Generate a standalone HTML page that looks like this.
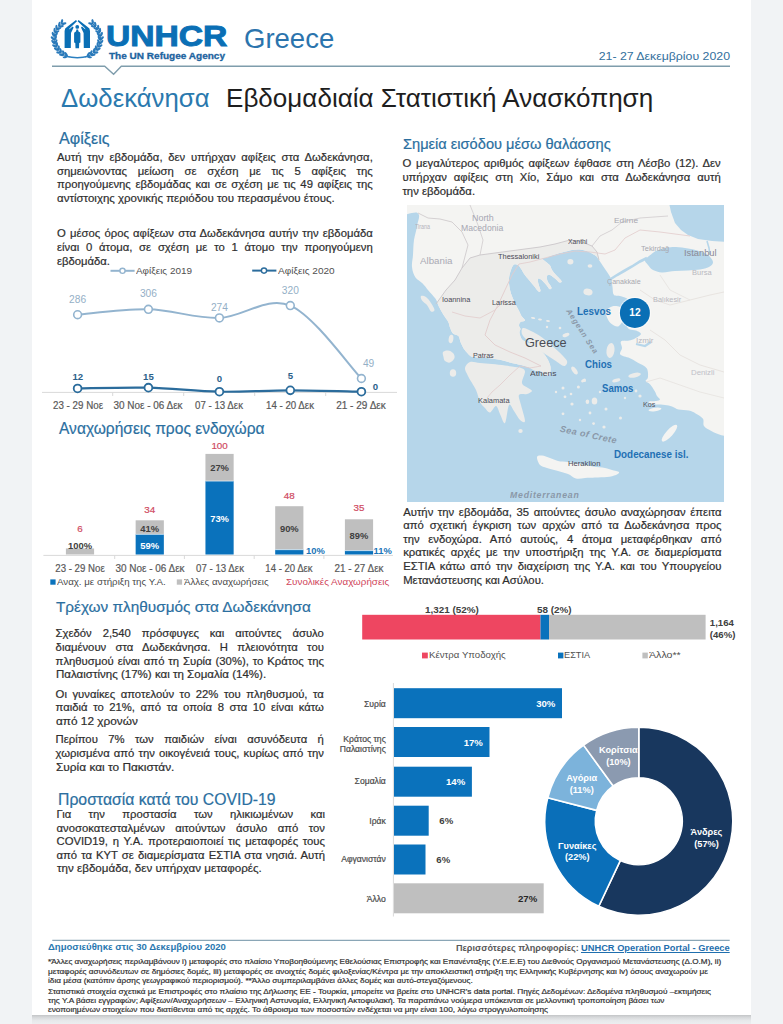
<!DOCTYPE html>
<html><head><meta charset="utf-8"><title>UNHCR Greece - Dodecanese</title>
<style>
*{margin:0;padding:0;box-sizing:border-box}
html,body{width:783px;height:1024px;overflow:hidden;background:#f1f3f5;font-family:"Liberation Sans",sans-serif}
#pg{position:absolute;left:32px;top:-10px;width:719.4px;height:1024.6px;background:#fff}
#sh{position:absolute;left:32px;top:1014.6px;width:719.4px;height:9.4px;background:linear-gradient(#c3c5c7,#d6d8da 25%,#e6e8ea 60%,#eceef0);z-index:5}
.t{position:absolute;white-space:nowrap}
.b{-webkit-text-stroke:0.2px currentColor}
svg{position:absolute;left:0;top:0;overflow:visible}
</style></head>
<body><div id="pg"></div>
<svg width="783" height="1024" viewBox="0 0 783 1024"><defs><clipPath id="mc"><rect x="407" y="205" width="317" height="297"/></clipPath><clipPath id="lc"><path d="M380.0,180.0 C440.8,174.5 696.7,137.2 760.0,180.0 C823.3,222.8 764.2,394.2 760.0,437.0 C755.8,479.8 741.4,437.3 735.0,437.0 C728.6,436.7 725.5,436.2 721.5,435.2 C717.5,434.2 714.2,432.5 711.3,431.0 C708.4,429.5 705.4,428.0 704.0,426.0 C702.6,424.0 704.3,420.9 703.0,418.8 C701.7,416.8 698.4,415.1 696.0,413.7 C693.6,412.3 691.7,411.3 688.8,410.6 C685.9,409.9 681.4,410.3 678.6,409.6 C675.8,408.9 674.3,407.3 672.0,406.5 C669.7,405.7 667.7,405.3 665.0,405.0 C662.3,404.7 658.5,404.8 656.0,404.5 C653.5,404.2 651.2,404.0 650.0,403.5 C648.8,403.0 648.0,401.9 649.0,401.5 C650.0,401.1 654.2,401.3 656.0,401.0 C657.8,400.7 659.8,400.3 660.0,399.5 C660.2,398.7 657.9,397.4 657.0,396.0 C656.1,394.6 655.9,393.2 654.8,391.3 C653.7,389.4 651.7,386.1 650.2,384.4 C648.7,382.7 646.0,382.1 645.6,381.0 C645.2,379.9 647.7,379.6 647.9,377.5 C648.1,375.4 648.4,370.8 646.7,368.3 C645.0,365.8 640.4,364.2 637.5,362.5 C634.6,360.8 632.4,359.3 629.5,358.0 C626.6,356.7 621.5,356.2 620.3,354.5 C619.0,352.8 621.9,350.2 622.0,348.0 C622.1,345.8 619.8,342.8 621.0,341.5 C622.2,340.2 626.7,341.0 629.0,340.5 C631.3,340.0 633.0,339.6 635.0,338.5 C637.0,337.4 640.8,335.3 641.0,334.0 C641.2,332.7 637.8,331.2 636.0,330.5 C634.2,329.8 631.5,330.2 630.0,329.5 C628.5,328.8 627.3,327.9 627.0,326.0 C626.7,324.1 627.5,322.0 628.0,318.0 C628.5,314.0 631.0,305.6 630.0,302.0 C629.0,298.4 624.7,297.7 622.0,296.5 C619.3,295.3 615.6,296.6 614.0,295.0 C612.4,293.4 612.9,289.5 612.5,287.0 C612.1,284.5 612.1,282.0 611.5,280.0 C610.9,278.0 610.1,276.8 609.0,275.0 C607.9,273.2 606.3,271.0 605.0,269.0 C603.7,267.0 602.2,264.8 601.0,263.0 C599.8,261.2 598.8,259.7 598.0,258.5 C597.2,257.3 597.7,257.2 596.0,256.0 C594.3,254.8 590.7,252.6 588.0,251.5 C585.3,250.4 582.7,249.8 580.0,249.5 C577.3,249.2 575.0,249.5 572.0,250.0 C569.0,250.5 565.2,251.7 562.0,252.5 C558.8,253.3 555.5,254.2 553.0,255.0 C550.5,255.8 548.8,256.9 547.0,257.5 C545.2,258.1 542.2,257.8 542.0,258.5 C541.8,259.2 544.7,260.8 546.0,262.0 C547.3,263.2 549.0,264.2 550.0,265.5 C551.0,266.8 551.0,268.4 552.0,270.0 C553.0,271.6 554.4,273.2 556.0,275.0 C557.6,276.8 560.9,279.8 561.5,281.0 C562.1,282.2 560.6,282.9 559.5,282.5 C558.4,282.1 556.6,279.8 555.0,278.5 C553.4,277.2 551.3,275.4 550.0,275.0 C548.7,274.6 547.4,275.0 547.0,276.0 C546.6,277.0 546.8,279.1 547.5,281.0 C548.2,282.9 551.2,286.2 551.5,287.5 C551.8,288.8 550.5,289.6 549.5,289.0 C548.5,288.4 546.9,285.6 545.5,284.0 C544.1,282.4 542.2,280.3 541.0,279.5 C539.8,278.7 538.4,278.2 538.0,279.0 C537.6,279.8 538.1,282.1 538.5,284.0 C538.9,285.9 540.5,289.2 540.5,290.5 C540.5,291.8 539.6,292.2 538.5,291.5 C537.4,290.8 535.6,287.9 534.0,286.0 C532.4,284.1 530.6,281.9 529.0,280.0 C527.4,278.1 525.8,276.2 524.5,274.5 C523.2,272.8 522.6,271.1 521.5,269.5 C520.4,267.9 519.4,265.7 518.0,265.0 C516.6,264.3 514.5,263.3 513.0,265.5 C511.5,267.7 509.4,274.1 509.0,278.3 C508.6,282.6 509.4,287.2 510.3,291.0 C511.2,294.8 512.7,297.9 514.2,301.3 C515.7,304.7 518.0,308.9 519.3,311.5 C520.6,314.1 520.8,315.1 521.8,316.6 C522.8,318.1 525.2,319.6 525.0,320.5 C524.8,321.4 521.5,321.2 520.5,322.0 C519.5,322.8 519.0,324.3 519.0,325.5 C519.0,326.7 520.4,327.8 520.5,329.0 C520.6,330.2 519.2,331.2 519.5,333.0 C519.8,334.8 520.8,338.2 522.5,340.0 C524.2,341.8 527.4,342.2 530.0,343.5 C532.6,344.8 535.7,346.2 538.0,348.0 C540.3,349.8 542.3,352.0 544.0,354.0 C545.7,356.0 546.9,357.8 548.0,360.0 C549.1,362.2 550.2,364.6 550.5,367.0 C550.8,369.4 550.4,373.1 549.5,374.5 C548.6,375.9 546.4,376.1 545.0,375.5 C543.6,374.9 542.7,371.8 541.0,371.0 C539.3,370.2 537.2,371.2 535.0,370.5 C532.8,369.8 530.3,367.9 528.0,367.0 C525.7,366.1 524.0,365.8 521.0,365.0 C518.0,364.2 513.5,363.4 510.0,362.5 C506.5,361.6 503.3,360.5 500.0,359.8 C496.7,359.1 493.3,358.7 490.0,358.3 C486.7,357.9 483.0,357.9 480.0,357.7 C477.0,357.4 474.0,357.5 472.0,356.8 C470.0,356.1 469.3,355.0 468.0,353.7 C466.7,352.4 465.2,350.9 464.0,349.0 C462.8,347.1 461.4,344.2 460.5,342.0 C459.6,339.8 459.8,337.4 458.5,336.0 C457.2,334.6 454.4,334.9 453.0,333.5 C451.6,332.1 450.8,329.4 450.0,327.5 C449.2,325.6 449.4,324.1 448.3,322.0 C447.2,319.9 445.2,317.5 443.6,315.0 C442.1,312.5 440.4,309.5 439.0,306.8 C437.6,304.1 437.2,301.3 435.4,298.6 C433.6,295.9 430.5,292.9 428.4,290.4 C426.3,287.9 424.8,285.5 422.6,283.4 C420.5,281.3 417.3,280.3 415.5,277.6 C413.7,274.9 412.4,270.8 412.0,267.0 C411.6,263.2 412.7,259.5 413.0,255.0 C413.3,250.5 413.3,244.8 414.0,240.0 C414.7,235.2 416.4,230.5 417.0,226.0 C417.6,221.5 421.2,215.2 417.5,213.0 C413.8,210.8 401.2,218.5 395.0,213.0 C388.8,207.5 319.2,185.5 380.0,180.0 Z"/></clipPath></defs><g clip-path="url(#mc)"><rect x="407" y="205" width="317" height="297" fill="#b6d6ea"/><path d="M380.0,180.0 C440.8,174.5 696.7,137.2 760.0,180.0 C823.3,222.8 764.2,394.2 760.0,437.0 C755.8,479.8 741.4,437.3 735.0,437.0 C728.6,436.7 725.5,436.2 721.5,435.2 C717.5,434.2 714.2,432.5 711.3,431.0 C708.4,429.5 705.4,428.0 704.0,426.0 C702.6,424.0 704.3,420.9 703.0,418.8 C701.7,416.8 698.4,415.1 696.0,413.7 C693.6,412.3 691.7,411.3 688.8,410.6 C685.9,409.9 681.4,410.3 678.6,409.6 C675.8,408.9 674.3,407.3 672.0,406.5 C669.7,405.7 667.7,405.3 665.0,405.0 C662.3,404.7 658.5,404.8 656.0,404.5 C653.5,404.2 651.2,404.0 650.0,403.5 C648.8,403.0 648.0,401.9 649.0,401.5 C650.0,401.1 654.2,401.3 656.0,401.0 C657.8,400.7 659.8,400.3 660.0,399.5 C660.2,398.7 657.9,397.4 657.0,396.0 C656.1,394.6 655.9,393.2 654.8,391.3 C653.7,389.4 651.7,386.1 650.2,384.4 C648.7,382.7 646.0,382.1 645.6,381.0 C645.2,379.9 647.7,379.6 647.9,377.5 C648.1,375.4 648.4,370.8 646.7,368.3 C645.0,365.8 640.4,364.2 637.5,362.5 C634.6,360.8 632.4,359.3 629.5,358.0 C626.6,356.7 621.5,356.2 620.3,354.5 C619.0,352.8 621.9,350.2 622.0,348.0 C622.1,345.8 619.8,342.8 621.0,341.5 C622.2,340.2 626.7,341.0 629.0,340.5 C631.3,340.0 633.0,339.6 635.0,338.5 C637.0,337.4 640.8,335.3 641.0,334.0 C641.2,332.7 637.8,331.2 636.0,330.5 C634.2,329.8 631.5,330.2 630.0,329.5 C628.5,328.8 627.3,327.9 627.0,326.0 C626.7,324.1 627.5,322.0 628.0,318.0 C628.5,314.0 631.0,305.6 630.0,302.0 C629.0,298.4 624.7,297.7 622.0,296.5 C619.3,295.3 615.6,296.6 614.0,295.0 C612.4,293.4 612.9,289.5 612.5,287.0 C612.1,284.5 612.1,282.0 611.5,280.0 C610.9,278.0 610.1,276.8 609.0,275.0 C607.9,273.2 606.3,271.0 605.0,269.0 C603.7,267.0 602.2,264.8 601.0,263.0 C599.8,261.2 598.8,259.7 598.0,258.5 C597.2,257.3 597.7,257.2 596.0,256.0 C594.3,254.8 590.7,252.6 588.0,251.5 C585.3,250.4 582.7,249.8 580.0,249.5 C577.3,249.2 575.0,249.5 572.0,250.0 C569.0,250.5 565.2,251.7 562.0,252.5 C558.8,253.3 555.5,254.2 553.0,255.0 C550.5,255.8 548.8,256.9 547.0,257.5 C545.2,258.1 542.2,257.8 542.0,258.5 C541.8,259.2 544.7,260.8 546.0,262.0 C547.3,263.2 549.0,264.2 550.0,265.5 C551.0,266.8 551.0,268.4 552.0,270.0 C553.0,271.6 554.4,273.2 556.0,275.0 C557.6,276.8 560.9,279.8 561.5,281.0 C562.1,282.2 560.6,282.9 559.5,282.5 C558.4,282.1 556.6,279.8 555.0,278.5 C553.4,277.2 551.3,275.4 550.0,275.0 C548.7,274.6 547.4,275.0 547.0,276.0 C546.6,277.0 546.8,279.1 547.5,281.0 C548.2,282.9 551.2,286.2 551.5,287.5 C551.8,288.8 550.5,289.6 549.5,289.0 C548.5,288.4 546.9,285.6 545.5,284.0 C544.1,282.4 542.2,280.3 541.0,279.5 C539.8,278.7 538.4,278.2 538.0,279.0 C537.6,279.8 538.1,282.1 538.5,284.0 C538.9,285.9 540.5,289.2 540.5,290.5 C540.5,291.8 539.6,292.2 538.5,291.5 C537.4,290.8 535.6,287.9 534.0,286.0 C532.4,284.1 530.6,281.9 529.0,280.0 C527.4,278.1 525.8,276.2 524.5,274.5 C523.2,272.8 522.6,271.1 521.5,269.5 C520.4,267.9 519.4,265.7 518.0,265.0 C516.6,264.3 514.5,263.3 513.0,265.5 C511.5,267.7 509.4,274.1 509.0,278.3 C508.6,282.6 509.4,287.2 510.3,291.0 C511.2,294.8 512.7,297.9 514.2,301.3 C515.7,304.7 518.0,308.9 519.3,311.5 C520.6,314.1 520.8,315.1 521.8,316.6 C522.8,318.1 525.2,319.6 525.0,320.5 C524.8,321.4 521.5,321.2 520.5,322.0 C519.5,322.8 519.0,324.3 519.0,325.5 C519.0,326.7 520.4,327.8 520.5,329.0 C520.6,330.2 519.2,331.2 519.5,333.0 C519.8,334.8 520.8,338.2 522.5,340.0 C524.2,341.8 527.4,342.2 530.0,343.5 C532.6,344.8 535.7,346.2 538.0,348.0 C540.3,349.8 542.3,352.0 544.0,354.0 C545.7,356.0 546.9,357.8 548.0,360.0 C549.1,362.2 550.2,364.6 550.5,367.0 C550.8,369.4 550.4,373.1 549.5,374.5 C548.6,375.9 546.4,376.1 545.0,375.5 C543.6,374.9 542.7,371.8 541.0,371.0 C539.3,370.2 537.2,371.2 535.0,370.5 C532.8,369.8 530.3,367.9 528.0,367.0 C525.7,366.1 524.0,365.8 521.0,365.0 C518.0,364.2 513.5,363.4 510.0,362.5 C506.5,361.6 503.3,360.5 500.0,359.8 C496.7,359.1 493.3,358.7 490.0,358.3 C486.7,357.9 483.0,357.9 480.0,357.7 C477.0,357.4 474.0,357.5 472.0,356.8 C470.0,356.1 469.3,355.0 468.0,353.7 C466.7,352.4 465.2,350.9 464.0,349.0 C462.8,347.1 461.4,344.2 460.5,342.0 C459.6,339.8 459.8,337.4 458.5,336.0 C457.2,334.6 454.4,334.9 453.0,333.5 C451.6,332.1 450.8,329.4 450.0,327.5 C449.2,325.6 449.4,324.1 448.3,322.0 C447.2,319.9 445.2,317.5 443.6,315.0 C442.1,312.5 440.4,309.5 439.0,306.8 C437.6,304.1 437.2,301.3 435.4,298.6 C433.6,295.9 430.5,292.9 428.4,290.4 C426.3,287.9 424.8,285.5 422.6,283.4 C420.5,281.3 417.3,280.3 415.5,277.6 C413.7,274.9 412.4,270.8 412.0,267.0 C411.6,263.2 412.7,259.5 413.0,255.0 C413.3,250.5 413.3,244.8 414.0,240.0 C414.7,235.2 416.4,230.5 417.0,226.0 C417.6,221.5 421.2,215.2 417.5,213.0 C413.8,210.8 401.2,218.5 395.0,213.0 C388.8,207.5 319.2,185.5 380.0,180.0 Z" fill="#f4f4f2"/><g clip-path="url(#lc)"><polygon points="436.0,304.0 446.0,290.0 455.0,280.0 462.0,268.0 470.0,258.0 480.0,255.0 495.0,253.0 510.0,251.0 525.0,249.0 540.0,247.0 555.0,244.0 570.0,240.0 582.0,242.0 592.0,246.0 597.0,252.0 599.0,260.0 600.0,300.0 560.0,420.0 440.0,420.0 420.0,330.0" fill="#ececea" /></g><path d="M465.0,368.0 C465.3,365.7 467.5,362.8 470.0,362.0 C472.5,361.2 476.3,362.7 480.0,363.0 C483.7,363.3 487.8,363.6 492.0,364.0 C496.2,364.4 501.2,365.0 505.0,365.5 C508.8,366.0 512.3,366.6 515.0,367.0 C517.7,367.4 519.3,367.2 521.0,368.0 C522.7,368.8 524.8,369.0 525.0,371.5 C525.2,374.0 521.5,380.2 522.0,383.0 C522.5,385.8 526.3,386.7 528.0,388.0 C529.7,389.3 532.2,390.0 532.0,391.0 C531.8,392.0 529.2,393.3 527.0,394.0 C524.8,394.7 520.0,393.2 519.0,395.0 C518.0,396.8 520.0,400.7 521.0,405.0 C522.0,409.3 525.2,418.5 525.0,421.0 C524.8,423.5 521.8,421.7 520.0,420.0 C518.2,418.3 515.8,413.5 514.0,411.0 C512.2,408.5 510.5,403.0 509.0,405.0 C507.5,407.0 506.5,421.5 505.0,423.0 C503.5,424.5 501.5,416.8 500.0,414.0 C498.5,411.2 497.7,406.2 496.0,406.0 C494.3,405.8 491.8,412.2 490.0,412.5 C488.2,412.8 486.7,409.8 485.0,408.0 C483.3,406.2 481.5,405.0 480.0,402.0 C478.5,399.0 478.0,394.3 476.0,390.0 C474.0,385.7 469.8,379.7 468.0,376.0 C466.2,372.3 464.7,370.3 465.0,368.0 Z" fill="#ececea" /><path d="M523.0,328.0 C524.5,327.5 528.2,329.7 531.0,331.0 C533.8,332.3 536.8,333.8 540.0,336.0 C543.2,338.2 546.8,341.3 550.0,344.0 C553.2,346.7 556.2,349.2 559.0,352.0 C561.8,354.8 566.2,358.7 567.0,361.0 C567.8,363.3 566.0,366.1 564.0,366.0 C562.0,365.9 558.2,362.5 555.0,360.5 C551.8,358.5 548.3,356.2 545.0,354.0 C541.7,351.8 538.0,349.3 535.0,347.0 C532.0,344.7 529.2,342.2 527.0,340.0 C524.8,337.8 522.7,336.0 522.0,334.0 C521.3,332.0 521.5,328.5 523.0,328.0 Z" fill="#ececea" /><path d="M537.0,457.0 C537.3,455.4 539.8,455.3 542.0,455.5 C544.2,455.7 547.3,457.1 550.0,458.0 C552.7,458.9 555.0,460.3 558.0,461.0 C561.0,461.7 564.3,461.5 568.0,462.0 C571.7,462.5 575.8,463.2 580.0,464.0 C584.2,464.8 588.8,465.8 593.0,466.5 C597.2,467.2 601.8,467.4 605.0,468.0 C608.2,468.6 609.7,469.3 612.0,470.0 C614.3,470.7 618.3,471.2 619.0,472.0 C619.7,472.8 618.0,474.2 616.0,475.0 C614.0,475.8 610.5,476.6 607.0,477.0 C603.5,477.4 598.7,477.3 595.0,477.5 C591.3,477.7 588.2,477.8 585.0,478.0 C581.8,478.2 578.8,479.2 576.0,478.5 C573.2,477.8 571.0,475.2 568.0,474.0 C565.0,472.8 561.5,472.0 558.0,471.0 C554.5,470.0 550.0,469.0 547.0,468.0 C544.0,467.0 541.7,466.8 540.0,465.0 C538.3,463.2 536.7,458.6 537.0,457.0 Z" fill="#f4f4f2" /><polygon points="668.0,198.0 671.0,212.0 675.0,223.0 681.0,230.0 688.0,235.0 698.0,239.0 712.0,241.0 730.0,242.0 730.0,198.0" fill="#b6d6ea" /><path d="M645.0,260.0 C645.5,258.2 649.0,256.1 651.0,254.5 C653.0,252.9 654.5,251.6 657.0,250.5 C659.5,249.4 662.8,248.6 666.0,248.0 C669.2,247.4 672.3,246.9 676.0,247.0 C679.7,247.1 684.2,247.8 688.0,248.5 C691.8,249.2 695.7,249.9 699.0,251.0 C702.3,252.1 705.7,253.2 708.0,255.0 C710.3,256.8 712.8,260.0 713.0,262.0 C713.2,264.0 711.2,265.8 709.0,267.0 C706.8,268.2 703.5,268.9 700.0,269.5 C696.5,270.1 692.2,270.2 688.0,270.5 C683.8,270.8 679.3,270.7 675.0,271.0 C670.7,271.3 665.7,272.7 662.0,272.5 C658.3,272.3 655.3,271.2 653.0,270.0 C650.7,268.8 649.3,266.7 648.0,265.0 C646.7,263.3 644.5,261.8 645.0,260.0 Z" fill="#b6d6ea" /><polyline points="610,279.5 617,275 624,271 632,266.5 640,261.5 647,258" fill="none" stroke="#b6d6ea" stroke-width="2.6"/><polyline points="707,241 709,248 710,255" fill="none" stroke="#b6d6ea" stroke-width="1.6"/><polyline points="636,344 645,346 651,342" fill="none" stroke="#b6d6ea" stroke-width="2.2"/><path d="M421.0,296.0 C421.7,295.4 424.3,295.8 426.0,297.0 C427.7,298.2 429.6,300.8 431.0,303.0 C432.4,305.2 434.5,308.6 434.5,310.0 C434.5,311.4 432.2,312.3 431.0,311.5 C429.8,310.7 428.5,306.8 427.0,305.0 C425.5,303.2 423.0,302.0 422.0,300.5 C421.0,299.0 420.3,296.6 421.0,296.0 Z" fill="#ececea" /><path d="M606.0,311.0 C606.8,309.2 609.7,307.2 612.0,306.5 C614.3,305.8 617.9,306.1 620.0,307.0 C622.1,307.9 624.0,309.8 624.5,312.0 C625.0,314.2 624.1,317.6 623.0,320.0 C621.9,322.4 620.0,325.9 618.0,326.5 C616.0,327.1 612.8,325.0 611.0,323.5 C609.2,322.0 607.8,319.6 607.0,317.5 C606.2,315.4 605.2,312.8 606.0,311.0 Z" fill="#f4f4f2" /><path d="M443.0,352.0 C443.8,350.9 446.3,350.3 448.0,350.5 C449.7,350.7 451.9,351.8 453.0,353.0 C454.1,354.2 455.0,356.4 454.5,358.0 C454.0,359.6 451.6,362.0 450.0,362.5 C448.4,363.0 446.1,361.9 445.0,361.0 C443.9,360.1 443.8,358.5 443.5,357.0 C443.2,355.5 442.2,353.1 443.0,352.0 Z" fill="#ececea" /><ellipse cx="451.0" cy="339.0" rx="2.3" ry="4.2" transform="rotate(10 451.0 339.0)" fill="#ececea"/><ellipse cx="453.0" cy="373.0" rx="3.2" ry="3.8" transform="rotate(0 453.0 373.0)" fill="#ececea"/><ellipse cx="570.4" cy="261.7" rx="3.0" ry="2.7" transform="rotate(0 570.4 261.7)" fill="#ececea"/><ellipse cx="590.0" cy="266.0" rx="2.4" ry="1.7" transform="rotate(0 590.0 266.0)" fill="#ececea"/><ellipse cx="588.0" cy="292.0" rx="4.6" ry="3.4" transform="rotate(10 588.0 292.0)" fill="#ececea"/><ellipse cx="533.0" cy="318.0" rx="2.2" ry="1.0" transform="rotate(10 533.0 318.0)" fill="#ececea"/><ellipse cx="540.0" cy="319.5" rx="2.0" ry="1.0" transform="rotate(10 540.0 319.5)" fill="#ececea"/><ellipse cx="548.0" cy="321.0" rx="2.0" ry="1.0" transform="rotate(10 548.0 321.0)" fill="#ececea"/><ellipse cx="566.0" cy="335.0" rx="3.6" ry="1.8" transform="rotate(-20 566.0 335.0)" fill="#ececea"/><ellipse cx="610.5" cy="350.5" rx="4.0" ry="7.5" transform="rotate(8 610.5 350.5)" fill="#ececea"/><ellipse cx="616.3" cy="380.3" rx="4.2" ry="1.7" transform="rotate(-15 616.3 380.3)" fill="#ececea"/><ellipse cx="634.6" cy="375.2" rx="6.4" ry="2.3" transform="rotate(-12 634.6 375.2)" fill="#ececea"/><ellipse cx="574.5" cy="370.5" rx="2.2" ry="4.6" transform="rotate(-35 574.5 370.5)" fill="#ececea"/><ellipse cx="583.5" cy="380.5" rx="2.6" ry="1.5" transform="rotate(-30 583.5 380.5)" fill="#ececea"/><ellipse cx="594.5" cy="401.0" rx="2.8" ry="3.6" transform="rotate(0 594.5 401.0)" fill="#ececea"/><ellipse cx="587.4" cy="401.7" rx="1.8" ry="2.3" transform="rotate(0 587.4 401.7)" fill="#ececea"/><ellipse cx="655.0" cy="409.5" rx="6.5" ry="1.7" transform="rotate(-8 655.0 409.5)" fill="#f4f4f2"/><ellipse cx="669.5" cy="433.2" rx="3.4" ry="11.0" transform="rotate(42 669.5 433.2)" fill="#f4f4f2"/><ellipse cx="520.5" cy="431.0" rx="2.2" ry="2.0" transform="rotate(0 520.5 431.0)" fill="#ececea"/><circle cx="563.0" cy="388.0" r="1.5" fill="#ececea"/><circle cx="565.0" cy="396.8" r="1.4" fill="#ececea"/><circle cx="572.0" cy="404.0" r="1.6" fill="#ececea"/><circle cx="563.0" cy="413.8" r="1.4" fill="#ececea"/><circle cx="584.7" cy="380.7" r="1.3" fill="#ececea"/><circle cx="578.4" cy="387.0" r="1.5" fill="#ececea"/><circle cx="590.0" cy="413.0" r="1.4" fill="#ececea"/><circle cx="593.6" cy="423.6" r="1.4" fill="#ececea"/><circle cx="604.0" cy="427.0" r="1.6" fill="#ececea"/><circle cx="606.0" cy="409.0" r="1.5" fill="#ececea"/><circle cx="620.5" cy="418.0" r="1.5" fill="#ececea"/><circle cx="556.0" cy="392.0" r="1.2" fill="#ececea"/><circle cx="600.0" cy="392.0" r="1.2" fill="#ececea"/><circle cx="571.0" cy="394.0" r="1.3" fill="#ececea"/><circle cx="580.0" cy="420.0" r="1.2" fill="#ececea"/><circle cx="640.0" cy="396.0" r="1.6" fill="#ececea"/><circle cx="636.0" cy="391.0" r="1.4" fill="#ececea"/><circle cx="625.0" cy="398.0" r="1.2" fill="#ececea"/><circle cx="547.0" cy="327.0" r="1.2" fill="#ececea"/><circle cx="560.0" cy="328.0" r="1.3" fill="#ececea"/><polyline points="436,304 446,290 455,280 462,268 470,258 480,255 495,253 510,251 525,249 540,247 555,244 570,240 582,242 592,246 597,252 599,260" fill="none" stroke="#cbc6c9" stroke-width="0.9"/><polyline points="418,213 428,218 440,219 452,222 462,232 468,245 462,268" fill="none" stroke="#cbc6c9" stroke-width="0.8"/><polyline points="480,255 483,240 478,225 470,205" fill="none" stroke="#cbc6c9" stroke-width="0.7"/><polyline points="592,246 600,236 612,230 622,222 640,218 668,216" fill="none" stroke="#cbc6c9" stroke-width="0.7"/><polyline points="519,264 512,275 505,290 498,305 490,320 485,335 495,345 510,352 525,358 541,366" fill="none" stroke="#e2cccc" stroke-width="0.9"/><polyline points="452,312 465,316 480,318 495,310 505,300" fill="none" stroke="#e2cccc" stroke-width="0.8"/><polyline points="541,366 530,368 520,366 510,375 500,385 492,392 487,398" fill="none" stroke="#e2cccc" stroke-width="0.8"/><polyline points="519,264 530,262 545,258 560,254 575,251 590,252 605,254 615,250 625,238 640,230 660,232 690,236" fill="none" stroke="#e2cccc" stroke-width="0.8"/><polyline points="640,290 655,300 670,305 690,300 710,295 724,292" fill="none" stroke="#e4dfdc" stroke-width="0.8"/><polyline points="650,330 665,340 680,355 700,365 724,372" fill="none" stroke="#e4dfdc" stroke-width="0.8"/><polyline points="660,275 670,290 690,300" fill="none" stroke="#e4dfdc" stroke-width="0.7"/><polyline points="646,382 660,378 680,385 700,392 724,398" fill="none" stroke="#e4dfdc" stroke-width="0.7"/><circle cx="634.9" cy="312.9" r="16.2" fill="#ffffff" fill-opacity="0.55"/><circle cx="634.9" cy="312.9" r="15.0" fill="#0a6fb5"/></g><text x="559.5" y="431.6" transform="rotate(12 559.5 431.6)" font-family="Liberation Sans" font-size="9" font-style="italic" font-weight="700" fill="#8a98a8" letter-spacing="0.9" textLength="58.5">Sea of Crete</text><text x="566" y="311" transform="rotate(57 566 311)" font-family="Liberation Sans" font-size="7.6" font-style="italic" font-weight="700" fill="#8a98a8" letter-spacing="0.6" textLength="52">Aegean Sea</text></svg>
<svg width="783" height="1024" viewBox="0 0 783 1024"><polyline points="52,66.2 104.7,66.2 113.6,74.2 121.3,66.2 730,66.2" fill="none" stroke="#7f9dac" stroke-width="1.4"/><line x1="52.3" y1="940.3" x2="729.7" y2="940.3" stroke="#8aa6b6" stroke-width="1.2"/><g fill="#0a6fb5"><path d="M64.60,48.00 L64.60,31.00 L65.20,28.60 L67.60,26.60 L76.00,20.00 L77.00,21.30 L69.60,28.20 L69.20,29.60 L72.60,26.60 L73.60,27.60 L71.00,33.00 L70.80,48.00 Z"/><path d="M90.00,48.00 L90.00,31.00 L89.40,28.60 L87.00,26.60 L78.60,20.00 L77.60,21.30 L85.00,28.20 L85.40,29.60 L82.00,26.60 L81.00,27.60 L83.60,33.00 L83.80,48.00 Z"/><circle cx="77.25" cy="26.9" r="1.9"/><path d="M74.1,33.6 Q74.1,31.6 76.0,31.4 L76.4,29.6 L78.1,29.6 L78.5,31.4 Q80.4,31.6 80.4,33.6 L80.4,42.5 L79.2,43 L79.0,48.2 L75.5,48.2 L75.3,43 L74.1,42.5 Z"/></g><g fill="#2a7abb"><ellipse cx="61.93" cy="21.58" rx="2.5" ry="1.15" transform="rotate(-76.5 61.93 21.58)"/><ellipse cx="64.02" cy="23.67" rx="2.5" ry="1.15" transform="rotate(-13.5 64.02 23.67)"/><ellipse cx="59.31" cy="24.20" rx="2.5" ry="1.15" transform="rotate(-76.5 59.31 24.20)"/><ellipse cx="61.40" cy="26.29" rx="2.5" ry="1.15" transform="rotate(-13.5 61.40 26.29)"/><ellipse cx="56.44" cy="27.13" rx="2.5" ry="1.15" transform="rotate(-91.9 56.44 27.13)"/><ellipse cx="59.01" cy="28.59" rx="2.5" ry="1.15" transform="rotate(-28.9 59.01 28.59)"/><ellipse cx="54.60" cy="30.35" rx="2.5" ry="1.15" transform="rotate(-91.9 54.60 30.35)"/><ellipse cx="57.18" cy="31.82" rx="2.5" ry="1.15" transform="rotate(-28.9 57.18 31.82)"/><ellipse cx="53.10" cy="34.25" rx="2.5" ry="1.15" transform="rotate(-112.4 53.10 34.25)"/><ellipse cx="56.02" cy="34.72" rx="2.5" ry="1.15" transform="rotate(-49.4 56.02 34.72)"/><ellipse cx="52.55" cy="38.35" rx="2.5" ry="1.15" transform="rotate(-129.4 52.55 38.35)"/><ellipse cx="55.49" cy="37.95" rx="2.5" ry="1.15" transform="rotate(-66.3 55.49 37.95)"/><ellipse cx="53.06" cy="42.02" rx="2.5" ry="1.15" transform="rotate(-129.4 53.06 42.02)"/><ellipse cx="55.99" cy="41.62" rx="2.5" ry="1.15" transform="rotate(-66.3 55.99 41.62)"/><ellipse cx="54.32" cy="46.01" rx="2.5" ry="1.15" transform="rotate(-150.1 54.32 46.01)"/><ellipse cx="56.92" cy="44.59" rx="2.5" ry="1.15" transform="rotate(-87.1 56.92 44.59)"/><ellipse cx="56.10" cy="49.27" rx="2.5" ry="1.15" transform="rotate(-150.1 56.10 49.27)"/><ellipse cx="58.69" cy="47.85" rx="2.5" ry="1.15" transform="rotate(-87.1 58.69 47.85)"/><ellipse cx="58.67" cy="52.57" rx="2.5" ry="1.15" transform="rotate(-171.1 58.67 52.57)"/><ellipse cx="60.58" cy="50.32" rx="2.5" ry="1.15" transform="rotate(-108.1 60.58 50.32)"/><ellipse cx="61.49" cy="54.97" rx="2.5" ry="1.15" transform="rotate(-171.1 61.49 54.97)"/><ellipse cx="63.41" cy="52.72" rx="2.5" ry="1.15" transform="rotate(-108.1 63.41 52.72)"/><ellipse cx="65.13" cy="57.04" rx="2.5" ry="1.15" transform="rotate(-192.2 65.13 57.04)"/><ellipse cx="66.11" cy="54.24" rx="2.5" ry="1.15" transform="rotate(-129.2 66.11 54.24)"/><ellipse cx="92.67" cy="21.58" rx="2.5" ry="1.15" transform="rotate(256.5 92.67 21.58)"/><ellipse cx="90.58" cy="23.67" rx="2.5" ry="1.15" transform="rotate(193.5 90.58 23.67)"/><ellipse cx="95.29" cy="24.20" rx="2.5" ry="1.15" transform="rotate(256.5 95.29 24.20)"/><ellipse cx="93.20" cy="26.29" rx="2.5" ry="1.15" transform="rotate(193.5 93.20 26.29)"/><ellipse cx="98.16" cy="27.13" rx="2.5" ry="1.15" transform="rotate(271.9 98.16 27.13)"/><ellipse cx="95.59" cy="28.59" rx="2.5" ry="1.15" transform="rotate(208.9 95.59 28.59)"/><ellipse cx="100.00" cy="30.35" rx="2.5" ry="1.15" transform="rotate(271.9 100.00 30.35)"/><ellipse cx="97.42" cy="31.82" rx="2.5" ry="1.15" transform="rotate(208.9 97.42 31.82)"/><ellipse cx="101.50" cy="34.25" rx="2.5" ry="1.15" transform="rotate(292.4 101.50 34.25)"/><ellipse cx="98.58" cy="34.72" rx="2.5" ry="1.15" transform="rotate(229.4 98.58 34.72)"/><ellipse cx="102.05" cy="38.35" rx="2.5" ry="1.15" transform="rotate(309.4 102.05 38.35)"/><ellipse cx="99.11" cy="37.95" rx="2.5" ry="1.15" transform="rotate(246.3 99.11 37.95)"/><ellipse cx="101.54" cy="42.02" rx="2.5" ry="1.15" transform="rotate(309.4 101.54 42.02)"/><ellipse cx="98.61" cy="41.62" rx="2.5" ry="1.15" transform="rotate(246.3 98.61 41.62)"/><ellipse cx="100.28" cy="46.01" rx="2.5" ry="1.15" transform="rotate(330.1 100.28 46.01)"/><ellipse cx="97.68" cy="44.59" rx="2.5" ry="1.15" transform="rotate(267.1 97.68 44.59)"/><ellipse cx="98.50" cy="49.27" rx="2.5" ry="1.15" transform="rotate(330.1 98.50 49.27)"/><ellipse cx="95.91" cy="47.85" rx="2.5" ry="1.15" transform="rotate(267.1 95.91 47.85)"/><ellipse cx="95.93" cy="52.57" rx="2.5" ry="1.15" transform="rotate(351.1 95.93 52.57)"/><ellipse cx="94.02" cy="50.32" rx="2.5" ry="1.15" transform="rotate(288.1 94.02 50.32)"/><ellipse cx="93.11" cy="54.97" rx="2.5" ry="1.15" transform="rotate(351.1 93.11 54.97)"/><ellipse cx="91.19" cy="52.72" rx="2.5" ry="1.15" transform="rotate(288.1 91.19 52.72)"/><ellipse cx="89.47" cy="57.04" rx="2.5" ry="1.15" transform="rotate(372.2 89.47 57.04)"/><ellipse cx="88.49" cy="54.24" rx="2.5" ry="1.15" transform="rotate(309.2 88.49 54.24)"/></g><polyline points="62.90,22.70 57.70,27.90 54.80,33.00 54.00,38.00 54.80,43.80 58.40,50.40 63.80,55.00 69.50,57.00" fill="none" stroke="#1f6fae" stroke-width="0.9"/><polyline points="91.70,22.70 96.90,27.90 99.80,33.00 100.60,38.00 99.80,43.80 96.20,50.40 90.80,55.00 85.10,57.00" fill="none" stroke="#1f6fae" stroke-width="0.9"/><path d="M66,56.3 Q77.3,59.2 88.6,56.3" fill="none" stroke="#2b7fc0" stroke-width="1.6"/><line x1="42" y1="392.4" x2="397" y2="392.4" stroke="#d9d9d9" stroke-width="1"/><line x1="112.7" y1="392.4" x2="112.7" y2="396" stroke="#d9d9d9" stroke-width="1"/><line x1="183.7" y1="392.4" x2="183.7" y2="396" stroke="#d9d9d9" stroke-width="1"/><line x1="254.7" y1="392.4" x2="254.7" y2="396" stroke="#d9d9d9" stroke-width="1"/><line x1="325.7" y1="392.4" x2="325.7" y2="396" stroke="#d9d9d9" stroke-width="1"/><path d="M77.60,314.71 C89.40,313.81 124.77,308.79 148.40,309.32 C172.03,309.86 195.75,318.57 219.40,317.94 C243.05,317.31 266.63,295.46 290.30,305.56 C313.97,315.65 349.55,366.35 361.40,378.51" fill="none" stroke="#93b4cf" stroke-width="2"/><path d="M77.60,388.47 C89.40,388.34 124.77,387.12 148.40,387.66 C172.03,388.20 195.75,391.25 219.40,391.70 C243.05,392.15 266.63,390.35 290.30,390.35 C313.97,390.35 349.55,391.48 361.40,391.70" fill="none" stroke="#2b6c9c" stroke-width="2.2"/><circle cx="77.60" cy="314.71" r="3.9" fill="#fff" stroke="#93b4cf" stroke-width="1.6"/><circle cx="148.40" cy="309.32" r="3.9" fill="#fff" stroke="#93b4cf" stroke-width="1.6"/><circle cx="219.40" cy="317.94" r="3.9" fill="#fff" stroke="#93b4cf" stroke-width="1.6"/><circle cx="290.30" cy="305.56" r="3.9" fill="#fff" stroke="#93b4cf" stroke-width="1.6"/><circle cx="361.40" cy="378.51" r="3.9" fill="#fff" stroke="#93b4cf" stroke-width="1.6"/><circle cx="77.60" cy="388.47" r="3.9" fill="#fff" stroke="#2b6c9c" stroke-width="1.8"/><circle cx="148.40" cy="387.66" r="3.9" fill="#fff" stroke="#2b6c9c" stroke-width="1.8"/><circle cx="219.40" cy="391.70" r="3.9" fill="#fff" stroke="#2b6c9c" stroke-width="1.8"/><circle cx="290.30" cy="390.35" r="3.9" fill="#fff" stroke="#2b6c9c" stroke-width="1.8"/><circle cx="361.40" cy="391.70" r="3.9" fill="#fff" stroke="#2b6c9c" stroke-width="1.8"/><line x1="110.5" y1="270.8" x2="134.6" y2="270.8" stroke="#93b4cf" stroke-width="2"/><circle cx="122.5" cy="270.8" r="2.6" fill="#fff" stroke="#93b4cf" stroke-width="1.4"/><line x1="252.2" y1="270.6" x2="276.4" y2="270.6" stroke="#2b6c9c" stroke-width="2"/><circle cx="264" cy="270.6" r="2.6" fill="#fff" stroke="#2b6c9c" stroke-width="1.4"/><line x1="43.4" y1="555.4" x2="393" y2="555.4" stroke="#d9d9d9" stroke-width="1"/><line x1="114.7" y1="555.4" x2="114.7" y2="559" stroke="#d9d9d9" stroke-width="1"/><line x1="184.4" y1="555.4" x2="184.4" y2="559" stroke="#d9d9d9" stroke-width="1"/><line x1="254.2" y1="555.4" x2="254.2" y2="559" stroke="#d9d9d9" stroke-width="1"/><line x1="323.9" y1="555.4" x2="323.9" y2="559" stroke="#d9d9d9" stroke-width="1"/><rect x="65.90" y="548.46" width="28.20" height="6.04" fill="#bfbfbf"/><rect x="135.65" y="520.30" width="28.20" height="14.02" fill="#bfbfbf"/><rect x="135.65" y="534.32" width="28.20" height="20.18" fill="#0a72bc"/><line x1="135.65" y1="534.32" x2="163.85" y2="534.32" stroke="#e8f4fb" stroke-width="0.7"/><rect x="205.45" y="453.90" width="28.20" height="27.16" fill="#bfbfbf"/><rect x="205.45" y="481.06" width="28.20" height="73.44" fill="#0a72bc"/><line x1="205.45" y1="481.06" x2="233.65" y2="481.06" stroke="#e8f4fb" stroke-width="0.7"/><rect x="275.20" y="506.21" width="28.20" height="43.46" fill="#bfbfbf"/><rect x="275.20" y="549.67" width="28.20" height="4.83" fill="#0a72bc"/><line x1="275.20" y1="549.67" x2="303.40" y2="549.67" stroke="#e8f4fb" stroke-width="0.7"/><rect x="344.90" y="519.29" width="28.20" height="31.34" fill="#bfbfbf"/><rect x="344.90" y="550.63" width="28.20" height="3.87" fill="#0a72bc"/><line x1="344.90" y1="550.63" x2="373.10" y2="550.63" stroke="#e8f4fb" stroke-width="0.7"/><rect x="50.3" y="579.4" width="5.3" height="5.3" fill="#0a72bc"/><rect x="176.8" y="579.4" width="5.3" height="5.3" fill="#bfbfbf"/><rect x="362.2" y="614.8" width="178.3" height="24.7" fill="#ee4661"/><rect x="540.5" y="614.8" width="8.5" height="24.7" fill="#0a72bc"/><rect x="549.0" y="614.8" width="156.6" height="24.7" fill="#bfbfbf"/><rect x="422.0" y="652.6" width="5.8" height="5.8" fill="#ee4661"/><rect x="558.0" y="652.6" width="5.4" height="5.8" fill="#0a72bc"/><rect x="642.4" y="652.6" width="5.4" height="5.8" fill="#bfbfbf"/><line x1="393.4" y1="683" x2="393.4" y2="916.5" stroke="#d9d9d9" stroke-width="1"/><rect x="394.0" y="688.2" width="168.0" height="30.0" fill="#0a72bc"/><rect x="394.0" y="727.0" width="95.5" height="30.0" fill="#0a72bc"/><rect x="394.0" y="766.7" width="77.9" height="30.0" fill="#0a72bc"/><rect x="394.0" y="805.7" width="34.7" height="30.0" fill="#0a72bc"/><rect x="394.0" y="844.5" width="31.5" height="30.0" fill="#0a72bc"/><rect x="394.0" y="883.3" width="149.7" height="30.0" fill="#bfbfbf"/><path d="M638.80,727.20 A94.00,94.00 0 1 1 598.78,906.25 L620.28,860.56 A43.50,43.50 0 1 0 638.80,777.70 Z" fill="#18375e" stroke="#fff" stroke-width="1.6" stroke-linejoin="round"/><path d="M598.78,906.25 A94.00,94.00 0 0 1 547.75,797.82 L596.67,810.38 A43.50,43.50 0 0 0 620.28,860.56 Z" fill="#0a6fb9" stroke="#fff" stroke-width="1.6" stroke-linejoin="round"/><path d="M547.75,797.82 A94.00,94.00 0 0 1 583.55,745.15 L613.23,786.01 A43.50,43.50 0 0 0 596.67,810.38 Z" fill="#7cb3db" stroke="#fff" stroke-width="1.6" stroke-linejoin="round"/><path d="M583.55,745.15 A94.00,94.00 0 0 1 638.80,727.20 L638.80,777.70 A43.50,43.50 0 0 0 613.23,786.01 Z" fill="#8b9ab0" stroke="#fff" stroke-width="1.6" stroke-linejoin="round"/></svg>
<div class="t" id="t1" style="left:105.60px;top:21.40px;font-size:30.00px;line-height:30.00px;color:#0a6fb5;font-weight:700;transform:scaleX(1.1207);transform-origin:0 0;-webkit-text-stroke:1.0px #0a6fb5">UNHCR</div>
<div class="t" id="t2" style="left:109.00px;top:51.98px;font-size:9.00px;line-height:9.00px;color:#1d64a0;font-weight:700;transform:scaleX(1.1134);transform-origin:0 0;-webkit-text-stroke:0.3px #1d64a0">The UN Refugee Agency</div>
<div class="t" id="t3" style="left:244.30px;top:24.82px;font-size:27.50px;line-height:27.50px;color:#2b74ad;transform:scaleX(1.0001);transform-origin:0 0">Greece</div>
<div class="t" id="t4" style="left:730.00px;top:50.72px;font-size:11.20px;line-height:11.20px;color:#33709d;transform:translateX(-100%) scaleX(1.1003);transform-origin:100% 0">21- 27 Δεκεμβρίου 2020</div>
<div class="t" id="t5" style="left:61.00px;top:84.57px;font-size:26.50px;line-height:26.50px;color:#2a79ae;transform:scaleX(0.9720);transform-origin:0 0">Δωδεκάνησα</div>
<div class="t" id="t6" style="left:225.50px;top:84.57px;font-size:26.50px;line-height:26.50px;color:#1e1e1e;transform:scaleX(0.9831);transform-origin:0 0">Εβδομαδιαία Στατιστική Ανασκόπηση</div>
<div class="t b" id="t7" style="left:58.50px;top:130.53px;font-size:15.80px;line-height:15.80px;color:#2b6f9f;transform:scaleX(1.0196);transform-origin:0 0">Αφίξεις</div>
<div class="t b" id="t8" style="left:403.20px;top:136.75px;font-size:14.00px;line-height:14.00px;color:#2b6f9f;transform:scaleX(1.0437);transform-origin:0 0">Σημεία εισόδου μέσω θαλάσσης</div>
<div class="t b" id="t9" style="left:58.90px;top:420.53px;font-size:15.80px;line-height:15.80px;color:#2b6f9f;transform:scaleX(0.9854);transform-origin:0 0">Αναχωρήσεις προς ενδοχώρα</div>
<div class="t b" id="t10" style="left:55.60px;top:598.66px;font-size:15.40px;line-height:15.40px;color:#2b6f9f;transform:scaleX(0.9972);transform-origin:0 0">Τρέχων πληθυσμός στα Δωδεκάνησα</div>
<div class="t b" id="t11" style="left:58.40px;top:791.73px;font-size:15.80px;line-height:15.80px;color:#2b6f9f;transform:scaleX(0.9985);transform-origin:0 0">Προστασία κατά του COVID-19</div>
<div class="t b" id="t12" style="left:57.00px;top:151.83px;font-size:11.30px;line-height:11.30px;color:#2e2e2e;width:315.80px;text-align:justify;text-align-last:justify">Αυτή την εβδομάδα, δεν υπήρχαν αφίξεις στα Δωδεκάνησα,</div>
<div class="t b" id="t13" style="left:57.00px;top:165.63px;font-size:11.30px;line-height:11.30px;color:#2e2e2e;width:315.80px;text-align:justify;text-align-last:justify">σημειώνοντας μείωση σε σχέση με τις 5 αφίξεις της</div>
<div class="t b" id="t14" style="left:57.00px;top:179.43px;font-size:11.30px;line-height:11.30px;color:#2e2e2e;width:315.80px;text-align:justify;text-align-last:justify">προηγούμενης εβδομάδας και σε σχέση με τις 49 αφίξεις της</div>
<div class="t b" id="t15" style="left:57.00px;top:193.23px;font-size:11.30px;line-height:11.30px;color:#2e2e2e;transform:scaleX(1.0168);transform-origin:0 0">αντίστοιχης χρονικής περιόδου του περασμένου έτους.</div>
<div class="t b" id="t16" style="left:57.00px;top:228.33px;font-size:11.30px;line-height:11.30px;color:#2e2e2e;width:315.80px;text-align:justify;text-align-last:justify">Ο μέσος όρος αφίξεων στα Δωδεκάνησα αυτήν την εβδομάδα</div>
<div class="t b" id="t17" style="left:57.00px;top:242.13px;font-size:11.30px;line-height:11.30px;color:#2e2e2e;width:315.80px;text-align:justify;text-align-last:justify">είναι 0 άτομα, σε σχέση με το 1 άτομο την  προηγούμενη</div>
<div class="t b" id="t18" style="left:57.00px;top:255.93px;font-size:11.30px;line-height:11.30px;color:#2e2e2e;transform:scaleX(0.9979);transform-origin:0 0">εβδομάδα.</div>
<div class="t b" id="t19" style="left:402.40px;top:157.73px;font-size:11.30px;line-height:11.30px;color:#2e2e2e;width:318.40px;text-align:justify;text-align-last:justify">Ο μεγαλύτερος αριθμός αφίξεων έφθασε στη Λέσβο (12). Δεν</div>
<div class="t b" id="t20" style="left:402.40px;top:171.63px;font-size:11.30px;line-height:11.30px;color:#2e2e2e;width:318.40px;text-align:justify;text-align-last:justify">υπήρχαν αφίξεις στη  Χίο, Σάμο και στα Δωδεκάνησα αυτή</div>
<div class="t b" id="t21" style="left:402.40px;top:185.53px;font-size:11.30px;line-height:11.30px;color:#2e2e2e">την εβδομάδα.</div>
<div class="t b" id="t22" style="left:403.20px;top:506.53px;font-size:11.30px;line-height:11.30px;color:#2e2e2e;width:318.30px;text-align:justify;text-align-last:justify">Αυτήν την εβδομάδα, 35 αιτούντες άσυλο αναχώρησαν έπειτα</div>
<div class="t b" id="t23" style="left:403.20px;top:520.13px;font-size:11.30px;line-height:11.30px;color:#2e2e2e;width:318.30px;text-align:justify;text-align-last:justify">από σχετική έγκριση των αρχών από τα Δωδεκάνησα προς</div>
<div class="t b" id="t24" style="left:403.20px;top:533.73px;font-size:11.30px;line-height:11.30px;color:#2e2e2e;width:318.30px;text-align:justify;text-align-last:justify">την ενδοχώρα. Από αυτούς, 4 άτομα μεταφέρθηκαν από</div>
<div class="t b" id="t25" style="left:403.20px;top:547.33px;font-size:11.30px;line-height:11.30px;color:#2e2e2e;width:318.30px;text-align:justify;text-align-last:justify">κρατικές αρχές με την υποστήριξη της Υ.Α. σε διαμερίσματα</div>
<div class="t b" id="t26" style="left:403.20px;top:560.93px;font-size:11.30px;line-height:11.30px;color:#2e2e2e;width:318.30px;text-align:justify;text-align-last:justify">ΕΣΤΙΑ κάτω από την διαχείριση της Υ.Α. και του Υπουργείου</div>
<div class="t b" id="t27" style="left:403.20px;top:574.53px;font-size:11.30px;line-height:11.30px;color:#2e2e2e">Μετανάστευσης και Ασύλου.</div>
<div class="t b" id="t28" style="left:55.60px;top:628.43px;font-size:11.30px;line-height:11.30px;color:#2e2e2e;width:268.30px;text-align:justify;text-align-last:justify">Σχεδόν 2,540 πρόσφυγες και αιτούντες άσυλο</div>
<div class="t b" id="t29" style="left:55.60px;top:642.10px;font-size:11.30px;line-height:11.30px;color:#2e2e2e;width:268.30px;text-align:justify;text-align-last:justify">διαμένουν στα Δωδεκάνησα. Η πλειονότητα του</div>
<div class="t b" id="t30" style="left:55.60px;top:655.77px;font-size:11.30px;line-height:11.30px;color:#2e2e2e;width:268.30px;text-align:justify;text-align-last:justify">πληθυσμού είναι από τη Συρία (30%), το Κράτος της</div>
<div class="t b" id="t31" style="left:55.60px;top:669.44px;font-size:11.30px;line-height:11.30px;color:#2e2e2e;transform:scaleX(1.0203);transform-origin:0 0">Παλαιστίνης (17%) και τη Σομαλία (14%).</div>
<div class="t b" id="t32" style="left:55.60px;top:688.53px;font-size:11.30px;line-height:11.30px;color:#2e2e2e;width:268.30px;text-align:justify;text-align-last:justify">Οι γυναίκες αποτελούν το 22% του πληθυσμού, τα</div>
<div class="t b" id="t33" style="left:55.60px;top:702.18px;font-size:11.30px;line-height:11.30px;color:#2e2e2e;width:268.30px;text-align:justify;text-align-last:justify">παιδιά το 21%, από τα οποία 8 στα 10 είναι κάτω</div>
<div class="t b" id="t34" style="left:55.60px;top:715.83px;font-size:11.30px;line-height:11.30px;color:#2e2e2e;transform:scaleX(1.0471);transform-origin:0 0">από 12  χρονών</div>
<div class="t b" id="t35" style="left:55.60px;top:734.23px;font-size:11.30px;line-height:11.30px;color:#2e2e2e;width:268.30px;text-align:justify;text-align-last:justify">Περίπου 7% των παιδιών είναι ασυνόδευτα ή</div>
<div class="t b" id="t36" style="left:55.60px;top:747.88px;font-size:11.30px;line-height:11.30px;color:#2e2e2e;width:268.30px;text-align:justify;text-align-last:justify">χωρισμένα από την οικογένειά τους, κυρίως από την</div>
<div class="t b" id="t37" style="left:55.60px;top:761.53px;font-size:11.30px;line-height:11.30px;color:#2e2e2e;transform:scaleX(1.0513);transform-origin:0 0">Συρία και το Πακιστάν.</div>
<div class="t b" id="t38" style="left:56.50px;top:809.03px;font-size:11.30px;line-height:11.30px;color:#2e2e2e;width:268.50px;text-align:justify;text-align-last:justify">Για την προστασία των ηλικιωμένων και</div>
<div class="t b" id="t39" style="left:56.50px;top:822.58px;font-size:11.30px;line-height:11.30px;color:#2e2e2e;width:268.50px;text-align:justify;text-align-last:justify">ανοσοκατεσταλμένων αιτούντων άσυλο από τον</div>
<div class="t b" id="t40" style="left:56.50px;top:836.13px;font-size:11.30px;line-height:11.30px;color:#2e2e2e;width:268.50px;text-align:justify;text-align-last:justify">COVID19, η Υ.Α. προτεραιοποιεί τις μεταφορές τους</div>
<div class="t b" id="t41" style="left:56.50px;top:849.68px;font-size:11.30px;line-height:11.30px;color:#2e2e2e;width:268.50px;text-align:justify;text-align-last:justify">από τα ΚΥΤ σε διαμερίσματα ΕΣΤΙΑ στα νησιά. Αυτή</div>
<div class="t b" id="t42" style="left:56.50px;top:863.23px;font-size:11.30px;line-height:11.30px;color:#2e2e2e;transform:scaleX(1.0263);transform-origin:0 0">την εβδομάδα, δεν υπήρχαν μεταφορές.</div>
<div class="t" id="t43" style="left:47.80px;top:943.28px;font-size:9.00px;line-height:9.00px;color:#2a78b0;font-weight:700;transform:scaleX(1.0609);transform-origin:0 0">Δημοσιεύθηκε στις 30 Δεκεμβρίου  2020</div>
<div class="t" id="t44" style="left:455.70px;top:943.78px;font-size:9.00px;line-height:9.00px;color:#585858;font-weight:700;transform:scaleX(1.0074);transform-origin:0 0">Περισσότερες πληροφορίες:</div>
<div class="t" id="t45" style="left:581.00px;top:943.78px;font-size:9.00px;line-height:9.00px;color:#1f6fae;font-weight:700;text-decoration:underline;transform:scaleX(1.0324);transform-origin:0 0">UNHCR Operation Portal - Greece</div>
<div class="t b" id="t46" style="left:48.20px;top:958.11px;font-size:7.90px;line-height:7.90px;color:#303030;transform:scaleX(1.0321);transform-origin:0 0">*Άλλες αναχωρήσεις περιλαμβάνουν i) μεταφορές στο πλαίσιο Υποβοηθούμενης Εθελούσιας Επιστροφής και Επανένταξης (Υ.Ε.Ε.Ε) του Διεθνούς Οργανισμού Μετανάστευσης (Δ.Ο.Μ), ii)</div>
<div class="t b" id="t47" style="left:48.20px;top:967.71px;font-size:7.90px;line-height:7.90px;color:#303030;transform:scaleX(1.0439);transform-origin:0 0">μεταφορές ασυνόδευτων σε δημόσιες δομές, iii) μεταφορές σε ανοιχτές δομές φιλοξενίας/Κέντρα με την αποκλειστική στήριξη της Ελληνικής Κυβέρνησης και iv) όσους αναχωρούν με</div>
<div class="t b" id="t48" style="left:48.20px;top:977.31px;font-size:7.90px;line-height:7.90px;color:#303030;transform:scaleX(1.0412);transform-origin:0 0">ίδια μέσα (κατόπιν άρσης γεωγραφικού περιορισμού). **Άλλο συμπεριλαμβάνει άλλες δομές και αυτό-στεγαζόμενους.</div>
<div class="t b" id="t49" style="left:48.20px;top:987.61px;font-size:7.90px;line-height:7.90px;color:#303030;transform:scaleX(1.0451);transform-origin:0 0">Στατιστικά στοιχεία σχετικά με Επιστροφές στο πλαίσιο της Δήλωσης ΕΕ - Τουρκία, μπορείτε να βρείτε στο  UNHCR's data portal. Πηγές Δεδομένων: Δεδομένα πληθυσμού  –εκτιμήσεις</div>
<div class="t b" id="t50" style="left:48.20px;top:997.01px;font-size:7.90px;line-height:7.90px;color:#303030;transform:scaleX(1.0446);transform-origin:0 0">της Υ.Α βάσει εγγραφών; Αφίξεων/Αναχωρήσεων – Ελληνική Αστυνομία, Ελληνική Ακτοφυλακή. Τα παραπάνω νούμερα υπόκεινται σε μελλοντική τροποποίηση βάσει των</div>
<div class="t b" id="t51" style="left:48.20px;top:1006.41px;font-size:7.90px;line-height:7.90px;color:#303030;transform:scaleX(1.0461);transform-origin:0 0">ενοποιημένων στοιχείων που διατίθενται από τις αρχές. Το άθροισμα των ποσοστών ενδέχεται να μην είναι 100, λόγω στρογγυλοποίησης</div>
<div class="t" id="t52" style="left:136.00px;top:266.07px;font-size:9.60px;line-height:9.60px;color:#505050;transform:scaleX(1.0352);transform-origin:0 0">Αφίξεις 2019</div>
<div class="t" id="t53" style="left:278.00px;top:266.07px;font-size:9.60px;line-height:9.60px;color:#505050;transform:scaleX(1.0482);transform-origin:0 0">Αφίξεις 2020</div>
<div class="t" id="t54" style="left:77.60px;top:294.97px;font-size:10.20px;line-height:10.20px;color:#94afc6;transform:translateX(-50%)">286</div>
<div class="t" id="t55" style="left:148.40px;top:289.27px;font-size:10.20px;line-height:10.20px;color:#94afc6;transform:translateX(-50%)">306</div>
<div class="t" id="t56" style="left:219.40px;top:303.47px;font-size:10.20px;line-height:10.20px;color:#94afc6;transform:translateX(-50%)">274</div>
<div class="t" id="t57" style="left:290.30px;top:285.77px;font-size:10.20px;line-height:10.20px;color:#94afc6;transform:translateX(-50%)">320</div>
<div class="t" id="t58" style="left:368.60px;top:359.37px;font-size:10.20px;line-height:10.20px;color:#94afc6;transform:translateX(-50%)">49</div>
<div class="t" id="t59" style="left:77.80px;top:371.97px;font-size:9.60px;line-height:9.60px;color:#2b618a;font-weight:700;transform:translateX(-50%)">12</div>
<div class="t" id="t60" style="left:148.40px;top:371.97px;font-size:9.60px;line-height:9.60px;color:#2b618a;font-weight:700;transform:translateX(-50%)">15</div>
<div class="t" id="t61" style="left:219.40px;top:373.97px;font-size:9.60px;line-height:9.60px;color:#2b618a;font-weight:700;transform:translateX(-50%)">0</div>
<div class="t" id="t62" style="left:290.30px;top:371.27px;font-size:9.60px;line-height:9.60px;color:#2b618a;font-weight:700;transform:translateX(-50%)">5</div>
<div class="t" id="t63" style="left:375.40px;top:381.77px;font-size:9.60px;line-height:9.60px;color:#2b618a;font-weight:700;transform:translateX(-50%)">0</div>
<div class="t b" id="t64" style="left:77.60px;top:399.63px;font-size:10.60px;line-height:10.60px;color:#595959;transform:translateX(-50%) scaleX(0.9225);transform-origin:50% 0">23 - 29 Νοε</div>
<div class="t b" id="t65" style="left:148.40px;top:399.63px;font-size:10.60px;line-height:10.60px;color:#595959;transform:translateX(-50%) scaleX(0.9395);transform-origin:50% 0">30 Νοε - 06 Δεκ</div>
<div class="t b" id="t66" style="left:219.40px;top:399.63px;font-size:10.60px;line-height:10.60px;color:#595959;transform:translateX(-50%) scaleX(0.9154);transform-origin:50% 0">07 - 13 Δεκ</div>
<div class="t b" id="t67" style="left:290.30px;top:399.63px;font-size:10.60px;line-height:10.60px;color:#595959;transform:translateX(-50%) scaleX(0.9154);transform-origin:50% 0">14 - 20 Δεκ</div>
<div class="t b" id="t68" style="left:361.40px;top:399.63px;font-size:10.60px;line-height:10.60px;color:#595959;transform:translateX(-50%) scaleX(0.9478);transform-origin:50% 0">21 - 29 Δεκ</div>
<div class="t b" id="t69" style="left:80.00px;top:523.90px;font-size:9.80px;line-height:9.80px;color:#cf4a5f;transform:translateX(-50%)">6</div>
<div class="t b" id="t70" style="left:149.75px;top:505.10px;font-size:9.80px;line-height:9.80px;color:#cf4a5f;transform:translateX(-50%)">34</div>
<div class="t b" id="t71" style="left:219.60px;top:440.70px;font-size:9.80px;line-height:9.80px;color:#cf4a5f;transform:translateX(-50%)">100</div>
<div class="t b" id="t72" style="left:289.30px;top:490.60px;font-size:9.80px;line-height:9.80px;color:#cf4a5f;transform:translateX(-50%)">48</div>
<div class="t b" id="t73" style="left:359.00px;top:503.10px;font-size:9.80px;line-height:9.80px;color:#cf4a5f;transform:translateX(-50%)">35</div>
<div class="t" id="t74" style="left:80.00px;top:541.04px;font-size:9.40px;line-height:9.40px;color:#404040;font-weight:700;transform:translateX(-50%)">100%</div>
<div class="t" id="t75" style="left:149.75px;top:523.84px;font-size:9.40px;line-height:9.40px;color:#404040;font-weight:700;transform:translateX(-50%)">41%</div>
<div class="t" id="t76" style="left:219.55px;top:463.24px;font-size:9.40px;line-height:9.40px;color:#404040;font-weight:700;transform:translateX(-50%)">27%</div>
<div class="t" id="t77" style="left:289.30px;top:524.14px;font-size:9.40px;line-height:9.40px;color:#404040;font-weight:700;transform:translateX(-50%)">90%</div>
<div class="t" id="t78" style="left:359.00px;top:531.14px;font-size:9.40px;line-height:9.40px;color:#404040;font-weight:700;transform:translateX(-50%)">89%</div>
<div class="t" id="t79" style="left:149.75px;top:541.04px;font-size:9.40px;line-height:9.40px;color:#fff;font-weight:700;transform:translateX(-50%)">59%</div>
<div class="t" id="t80" style="left:219.55px;top:514.24px;font-size:9.40px;line-height:9.40px;color:#fff;font-weight:700;transform:translateX(-50%)">73%</div>
<div class="t" id="t81" style="left:306.00px;top:545.84px;font-size:9.40px;line-height:9.40px;color:#1a75b8;font-weight:700">10%</div>
<div class="t" id="t82" style="left:373.60px;top:545.84px;font-size:9.40px;line-height:9.40px;color:#1a75b8;font-weight:700">11%</div>
<div class="t b" id="t83" style="left:80.00px;top:563.33px;font-size:10.60px;line-height:10.60px;color:#595959;transform:translateX(-50%) scaleX(0.9114);transform-origin:50% 0">23 - 29 Νοε</div>
<div class="t b" id="t84" style="left:149.75px;top:563.33px;font-size:10.60px;line-height:10.60px;color:#595959;transform:translateX(-50%) scaleX(0.9395);transform-origin:50% 0">30 Νοε - 06 Δεκ</div>
<div class="t b" id="t85" style="left:219.55px;top:563.33px;font-size:10.60px;line-height:10.60px;color:#595959;transform:translateX(-50%) scaleX(0.9154);transform-origin:50% 0">07 - 13 Δεκ</div>
<div class="t b" id="t86" style="left:289.30px;top:563.33px;font-size:10.60px;line-height:10.60px;color:#595959;transform:translateX(-50%) scaleX(0.9020);transform-origin:50% 0">14 - 20 Δεκ</div>
<div class="t b" id="t87" style="left:359.00px;top:563.33px;font-size:10.60px;line-height:10.60px;color:#595959;transform:translateX(-50%) scaleX(0.9344);transform-origin:50% 0">21 - 27 Δεκ</div>
<div class="t" id="t88" style="left:56.50px;top:576.94px;font-size:9.40px;line-height:9.40px;color:#4a4a4a;transform:scaleX(1.0359);transform-origin:0 0">Αναχ. με στήριξη της Υ.Α.</div>
<div class="t" id="t89" style="left:183.70px;top:576.94px;font-size:9.40px;line-height:9.40px;color:#4a4a4a;transform:scaleX(1.0383);transform-origin:0 0">Άλλες αναχωρήσεις</div>
<div class="t" id="t90" style="left:286.00px;top:576.64px;font-size:9.40px;line-height:9.40px;color:#d0455a;transform:scaleX(1.0521);transform-origin:0 0">Συνολικές Αναχωρήσεις</div>
<div class="t" id="t91" style="left:425.20px;top:605.07px;font-size:9.60px;line-height:9.60px;color:#404040;font-weight:700;transform:scaleX(1.0274);transform-origin:0 0">1,321  (52%)</div>
<div class="t" id="t92" style="left:537.00px;top:604.87px;font-size:9.60px;line-height:9.60px;color:#404040;font-weight:700;transform:scaleX(1.0300);transform-origin:0 0">58  (2%)</div>
<div class="t" id="t93" style="left:709.80px;top:618.07px;font-size:9.60px;line-height:9.60px;color:#404040;font-weight:700">1,164</div>
<div class="t" id="t94" style="left:709.80px;top:630.17px;font-size:9.60px;line-height:9.60px;color:#404040;font-weight:700">(46%)</div>
<div class="t" id="t95" style="left:429.00px;top:650.47px;font-size:9.60px;line-height:9.60px;color:#505050;transform:scaleX(1.0040);transform-origin:0 0">Κέντρα Υποδοχής</div>
<div class="t" id="t96" style="left:564.30px;top:650.47px;font-size:9.60px;line-height:9.60px;color:#505050;transform:scaleX(0.9572);transform-origin:0 0">ΕΣΤΙΑ</div>
<div class="t" id="t97" style="left:648.60px;top:650.47px;font-size:9.60px;line-height:9.60px;color:#505050;transform:scaleX(1.1062);transform-origin:0 0">Άλλο**</div>
<div class="t" id="t98" style="left:536.20px;top:698.87px;font-size:9.60px;line-height:9.60px;color:#fff;font-weight:700">30%</div>
<div class="t" id="t99" style="left:463.70px;top:737.67px;font-size:9.60px;line-height:9.60px;color:#fff;font-weight:700">17%</div>
<div class="t" id="t100" style="left:446.00px;top:777.37px;font-size:9.60px;line-height:9.60px;color:#fff;font-weight:700">14%</div>
<div class="t" id="t101" style="left:439.30px;top:816.37px;font-size:9.60px;line-height:9.60px;color:#404040;font-weight:700">6%</div>
<div class="t" id="t102" style="left:436.30px;top:855.17px;font-size:9.60px;line-height:9.60px;color:#404040;font-weight:700">6%</div>
<div class="t" id="t103" style="left:518.00px;top:893.97px;font-size:9.60px;line-height:9.60px;color:#262626;font-weight:700">27%</div>
<div class="t b" id="t104" style="left:385.80px;top:699.52px;font-size:8.60px;line-height:8.60px;color:#4a4a4a;transform:translateX(-100%)">Συρία</div>
<div class="t b" id="t105" style="left:385.80px;top:734.82px;font-size:8.60px;line-height:8.60px;color:#4a4a4a;transform:translateX(-100%)">Κράτος της</div>
<div class="t b" id="t106" style="left:385.80px;top:745.12px;font-size:8.60px;line-height:8.60px;color:#4a4a4a;transform:translateX(-100%)">Παλαιστίνης</div>
<div class="t b" id="t107" style="left:385.80px;top:777.42px;font-size:8.60px;line-height:8.60px;color:#4a4a4a;transform:translateX(-100%)">Σομαλία</div>
<div class="t b" id="t108" style="left:385.80px;top:817.12px;font-size:8.60px;line-height:8.60px;color:#4a4a4a;transform:translateX(-100%)">Ιράκ</div>
<div class="t b" id="t109" style="left:385.80px;top:855.22px;font-size:8.60px;line-height:8.60px;color:#4a4a4a;transform:translateX(-100%)">Αφγανιστάν</div>
<div class="t b" id="t110" style="left:385.80px;top:894.92px;font-size:8.60px;line-height:8.60px;color:#4a4a4a;transform:translateX(-100%)">Άλλο</div>
<div class="t" id="t111" style="left:706.50px;top:828.41px;font-size:9.20px;line-height:9.20px;color:#fff;font-weight:700;transform:translateX(-50%)">Άνδρες</div>
<div class="t" id="t112" style="left:706.50px;top:840.11px;font-size:9.20px;line-height:9.20px;color:#fff;font-weight:700;transform:translateX(-50%)">(57%)</div>
<div class="t" id="t113" style="left:577.30px;top:841.61px;font-size:9.20px;line-height:9.20px;color:#fff;font-weight:700;transform:translateX(-50%)">Γυναίκες</div>
<div class="t" id="t114" style="left:577.30px;top:853.31px;font-size:9.20px;line-height:9.20px;color:#fff;font-weight:700;transform:translateX(-50%)">(22%)</div>
<div class="t" id="t115" style="left:581.70px;top:774.01px;font-size:9.20px;line-height:9.20px;color:#fff;font-weight:700;transform:translateX(-50%)">Αγόρια</div>
<div class="t" id="t116" style="left:581.70px;top:785.71px;font-size:9.20px;line-height:9.20px;color:#fff;font-weight:700;transform:translateX(-50%)">(11%)</div>
<div class="t" id="t117" style="left:618.40px;top:746.11px;font-size:9.20px;line-height:9.20px;color:#fff;font-weight:700;transform:translateX(-50%)">Κορίτσια</div>
<div class="t" id="t118" style="left:618.40px;top:757.81px;font-size:9.20px;line-height:9.20px;color:#fff;font-weight:700;transform:translateX(-50%)">(10%)</div>
<div class="t" id="t119" style="left:471.60px;top:214.09px;font-size:8.40px;line-height:8.40px;color:#a7a7b3;transform:scaleX(1.0642);transform-origin:0 0">North</div>
<div class="t" id="t120" style="left:460.80px;top:223.69px;font-size:8.40px;line-height:8.40px;color:#a7a7b3;transform:scaleX(1.0297);transform-origin:0 0">Macedonia</div>
<div class="t" id="t121" style="left:419.50px;top:255.64px;font-size:9.40px;line-height:9.40px;color:#aaaab4;transform:scaleX(1.0390);transform-origin:0 0">Albania</div>
<div class="t" id="t122" style="left:414.50px;top:223.47px;font-size:7.00px;line-height:7.00px;color:#b3b3bb;transform:scaleX(0.7656);transform-origin:0 0">Tirana</div>
<div class="t" id="t123" style="left:498.40px;top:253.17px;font-size:7.60px;line-height:7.60px;color:#4a4a55;transform:scaleX(0.9806);transform-origin:0 0">Thessaloniki</div>
<div class="t" id="t124" style="left:442.30px;top:295.97px;font-size:7.60px;line-height:7.60px;color:#4a4a55;transform:scaleX(0.9712);transform-origin:0 0">Ioannina</div>
<div class="t" id="t125" style="left:491.50px;top:299.17px;font-size:7.60px;line-height:7.60px;color:#4a4a55;transform:scaleX(0.9720);transform-origin:0 0">Larissa</div>
<div class="t" id="t126" style="left:525.00px;top:335.96px;font-size:13.40px;line-height:13.40px;color:#4a4c55;transform:scaleX(0.9471);transform-origin:0 0">Greece</div>
<div class="t" id="t127" style="left:529.50px;top:369.97px;font-size:7.60px;line-height:7.60px;color:#4a4a55;transform:scaleX(1.1160);transform-origin:0 0">Athens</div>
<div class="t" id="t128" style="left:472.70px;top:351.57px;font-size:7.60px;line-height:7.60px;color:#4a4a55;transform:scaleX(0.9429);transform-origin:0 0">Patras</div>
<div class="t" id="t129" style="left:478.00px;top:396.97px;font-size:7.60px;line-height:7.60px;color:#4a4a55;transform:scaleX(0.9846);transform-origin:0 0">Kalamata</div>
<div class="t" id="t130" style="left:567.60px;top:238.47px;font-size:7.60px;line-height:7.60px;color:#4a4a55;transform:scaleX(0.9004);transform-origin:0 0">Xanthi</div>
<div class="t" id="t131" style="left:614.00px;top:216.77px;font-size:7.60px;line-height:7.60px;color:#a8a8b0;transform:scaleX(1.0932);transform-origin:0 0">Edirne</div>
<div class="t" id="t132" style="left:641.40px;top:244.97px;font-size:7.60px;line-height:7.60px;color:#a8a8b0;transform:scaleX(0.9825);transform-origin:0 0">Tekirdağ</div>
<div class="t" id="t133" style="left:683.70px;top:249.18px;font-size:9.00px;line-height:9.00px;color:#8a8a96;transform:scaleX(1.0339);transform-origin:0 0">Istanbul</div>
<div class="t" id="t134" style="left:606.70px;top:277.57px;font-size:7.60px;line-height:7.60px;color:#a8a8b0;transform:scaleX(0.9362);transform-origin:0 0">Çanakkale</div>
<div class="t" id="t135" style="left:653.40px;top:295.97px;font-size:7.60px;line-height:7.60px;color:#b8b8c0;transform:scaleX(0.9682);transform-origin:0 0">Balıkesir</div>
<div class="t" id="t136" style="left:692.40px;top:268.87px;font-size:7.60px;line-height:7.60px;color:#b8b8c0;transform:scaleX(0.9877);transform-origin:0 0">Bursa</div>
<div class="t" id="t137" style="left:636.00px;top:337.27px;font-size:7.60px;line-height:7.60px;color:#b8b8c0;transform:scaleX(1.0575);transform-origin:0 0">Izmir</div>
<div class="t" id="t138" style="left:691.30px;top:368.57px;font-size:7.60px;line-height:7.60px;color:#c0c0c8;transform:scaleX(1.0308);transform-origin:0 0">Denizli</div>
<div class="t" id="t139" style="left:643.30px;top:400.97px;font-size:7.60px;line-height:7.60px;color:#555560;transform:scaleX(0.9394);transform-origin:0 0">Kos</div>
<div class="t" id="t140" style="left:568.40px;top:459.77px;font-size:7.60px;line-height:7.60px;color:#4a4a55;transform:scaleX(1.0100);transform-origin:0 0">Heraklion</div>
<div class="t" id="t141" style="left:510.00px;top:490.78px;font-size:9.00px;line-height:9.00px;color:#8a98a8;font-weight:700;font-style:italic;transform:scaleX(0.9663);transform-origin:0 0;letter-spacing:0.8px">Mediterranean</div>
<div class="t" id="t142" style="left:576.60px;top:307.37px;font-size:10.20px;line-height:10.20px;color:#1f70b4;font-weight:700;transform:scaleX(0.9684);transform-origin:0 0">Lesvos</div>
<div class="t" id="t143" style="left:585.20px;top:360.37px;font-size:10.20px;line-height:10.20px;color:#1f70b4;font-weight:700;transform:scaleX(0.9536);transform-origin:0 0">Chios</div>
<div class="t" id="t144" style="left:602.00px;top:383.67px;font-size:10.20px;line-height:10.20px;color:#1f70b4;font-weight:700;transform:scaleX(0.9395);transform-origin:0 0">Samos</div>
<div class="t" id="t145" style="left:613.60px;top:450.27px;font-size:10.20px;line-height:10.20px;color:#1f70b4;font-weight:700;transform:scaleX(0.9660);transform-origin:0 0">Dodecanese isl.</div>
<div class="t" id="t146" style="left:634.90px;top:308.37px;font-size:10.20px;line-height:10.20px;color:#ffffff;font-weight:700;transform:translateX(-50%)">12</div>
<div id="sh"></div>
</body></html>
